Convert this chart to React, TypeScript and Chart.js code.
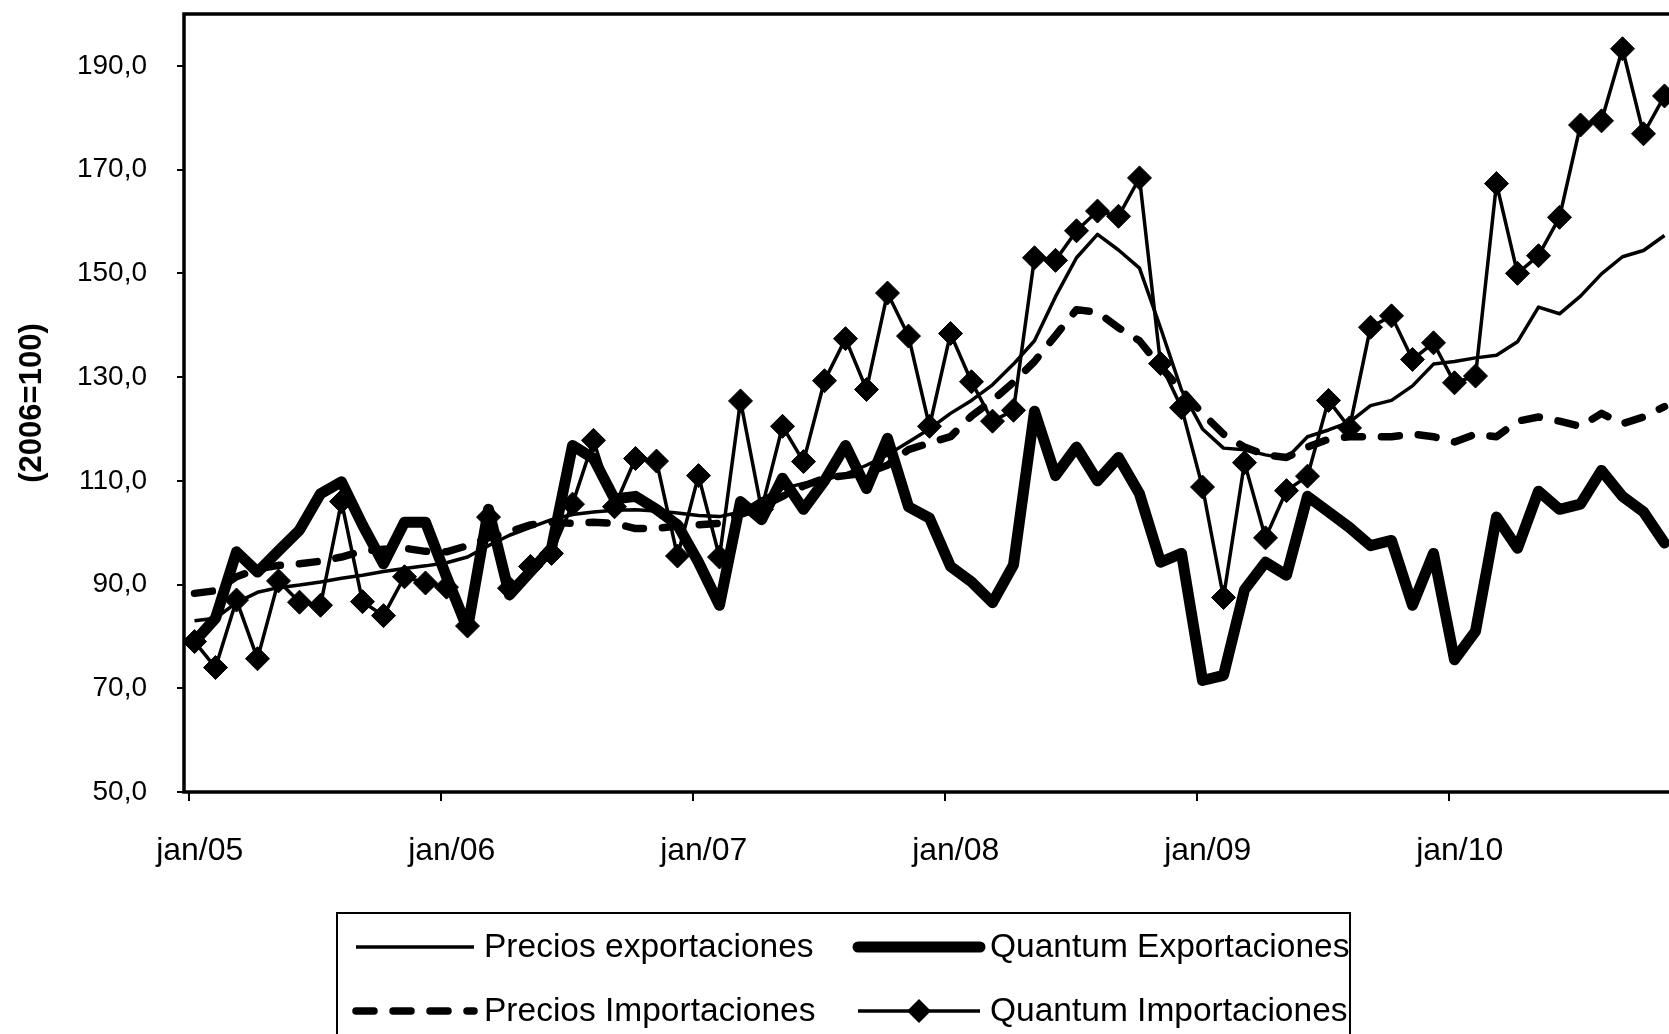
import React, { useEffect, useRef } from 'react';
import { Chart, registerables } from 'chart.js';

Chart.register(...registerables);

// ---------- data ----------
const MONTHS = ['jan', 'fev', 'mar', 'abr', 'mai', 'jun', 'jul', 'ago', 'set', 'out', 'nov', 'dez'];
const YEARS = ['05', '06', '07', '08', '09', '10'];
const categories: string[] = YEARS.flatMap((y) => MONTHS.map((m) => `${m}/${y}`)).slice(0, 71);
const xTickLabels = ['jan/05', 'jan/06', 'jan/07', 'jan/08', 'jan/09', 'jan/10'];

const yTicks = [50, 70, 90, 110, 130, 150, 170, 190];

const preciosExportaciones = [
  83.0, 83.5, 86.5, 88.5, 89.4, 89.9, 90.5, 91.2, 91.8, 92.5, 93.1, 93.6,
  94.2, 95.3, 97.5, 99.5, 101.0, 102.5, 103.5, 104.0, 104.3, 104.4, 104.2, 103.8,
  103.3, 103.1, 104.0, 106.5, 108.5, 109.5, 110.2, 111.3, 113.0, 115.0, 117.5, 120.0,
  123.0, 125.5, 128.5, 132.5, 137.0, 145.5, 153.0, 157.5, 154.5, 151.0, 139.5, 127.5,
  120.0, 116.3, 116.0, 115.0, 114.3, 118.5, 119.8, 121.3, 124.5, 125.5, 128.3, 132.5,
  133.0, 133.7, 134.2, 136.8, 143.5, 142.2, 145.6, 149.9, 153.2, 154.4, 157.3,
];

const quantumExportaciones = [
  79.0, 83.5, 96.3, 92.4, 96.5, 100.5, 107.5, 109.8, 101.5, 94.0, 102.0, 102.0,
  91.5, 81.5, 104.5, 88.0, 92.5, 97.0, 116.8, 114.3, 106.5, 107.0, 104.5, 101.5,
  94.3, 86.0, 106.0, 102.5, 110.5, 104.5, 110.0, 116.8, 108.5, 118.2, 105.0, 102.8,
  93.5, 90.5, 86.5, 93.8, 123.4, 111.0, 116.5, 110.0, 114.5, 107.5, 94.3, 96.0,
  71.5, 72.5, 89.0, 94.3, 91.8, 107.0, 104.0, 101.0, 97.5, 98.5, 86.0, 96.0,
  75.5, 81.0, 103.0, 97.0, 108.0, 104.5, 105.5, 112.0, 107.0, 104.0, 98.0,
];

const preciosImportaciones = [
  88.3, 88.8, 91.5, 93.0, 93.7, 94.0, 94.5, 95.3, 96.5, 96.8, 97.0, 96.4,
  96.3, 97.5, 99.0, 100.2, 101.5, 102.0, 101.8, 102.0, 101.8, 100.8, 100.8, 101.3,
  101.5, 101.8, 103.5, 105.0, 107.0, 109.0, 110.5, 111.0, 111.5, 113.0, 116.0, 117.3,
  118.5, 122.5, 125.5, 129.0, 133.0, 138.0, 143.0, 142.5, 139.5, 137.0, 132.0, 127.5,
  123.0, 119.0, 116.5, 115.0, 114.5, 116.5, 118.0, 118.5, 118.5, 118.5, 119.0, 118.5,
  117.5, 119.0, 118.5, 121.5, 122.3, 121.5, 120.5, 123.0, 121.0, 122.3, 124.3,
];

const quantumImportaciones = [
  79.0, 74.0, 87.0, 75.7, 90.7, 86.6, 86.0, 106.0, 86.7, 84.0, 91.5, 90.3,
  89.5, 82.0, 103.0, 89.3, 93.5, 96.0, 105.5, 117.8, 105.0, 114.3, 113.8, 95.5,
  111.0, 95.3, 125.4, 104.5, 120.5, 113.7, 129.3, 137.4, 127.6, 146.2, 137.9, 120.5,
  138.4, 129.1, 121.5, 123.6, 153.0, 152.5, 158.2, 162.0, 161.0, 168.4, 132.6, 124.1,
  108.8, 87.5, 113.5, 99.0, 108.1, 110.9, 125.5, 120.2, 139.6, 141.8, 133.4, 136.6,
  128.9, 130.2, 167.3, 150.0, 153.4, 160.8, 178.6, 179.4, 193.3, 176.9, 184.2,
];

const seriesLabels = [
  'Precios exportaciones',
  'Quantum Exportaciones',
  'Precios Importaciones',
  'Quantum Importaciones',
];
const yTitle = '(2006=100)';

// ---------- layout constants ----------
const FONT = "'Liberation Sans', Arial, Helvetica, sans-serif";
const CANVAS_W = 1700;
const CANVAS_H = 1090;
const AREA_LEFT = 184;
const AREA_TOP = 14;
const AREA_BOTTOM = 792;
const AREA_RIGHT = 1675;
const X_AXIS_H = 120;
const X_MIN = -0.5;
const X_MAX = 70.5;
const X_TICK_SHIFT = 0.25;

const fmt = (v: number) => v.toFixed(1).replace('.', ',');
const toPoints = (arr: number[]) => arr.map((v, i) => ({ x: i, y: v }));

const framePlugin = {
  id: 'frame',
  afterDraw(chart: any) {
    const { ctx, chartArea: a } = chart;
    ctx.save();
    ctx.strokeStyle = '#000';
    ctx.lineWidth = 3.5;
    ctx.strokeRect(a.left, a.top, a.right - a.left, a.bottom - a.top);
    ctx.restore();
  },
};

const legendPlugin = {
  id: 'boxLegend',
  afterDraw(chart: any) {
    const ctx = chart.ctx as CanvasRenderingContext2D;
    const ds = chart.data.datasets;
    ctx.save();
    ctx.strokeStyle = '#000';
    ctx.lineWidth = 2;
    ctx.strokeRect(337, 913, 1350 - 337, 170);

    const rowsY = [947, 1011];
    const cols = [
      { s: 356, e: 474, t: 484 },
      { s: 858, e: 980, t: 990 },
    ];
    const order = ['pe', 'qe', 'pi', 'qi'];
    order.forEach((key, k) => {
      const d = ds.find((x: any) => x.key === key);
      const col = cols[k % 2];
      const y = rowsY[Math.floor(k / 2)];
      ctx.save();
      ctx.strokeStyle = '#000';
      ctx.lineWidth = d.borderWidth;
      ctx.lineCap = d.borderCapStyle || 'butt';
      ctx.setLineDash(d.borderDash || []);
      ctx.beginPath();
      ctx.moveTo(col.s, y);
      ctx.lineTo(col.e, y);
      ctx.stroke();
      ctx.setLineDash([]);
      if (d.pointRadius > 0) {
        const cx = (col.s + col.e) / 2;
        const r = d.pointRadius;
        ctx.fillStyle = '#000';
        ctx.beginPath();
        ctx.moveTo(cx - r, y);
        ctx.lineTo(cx, y - r);
        ctx.lineTo(cx + r, y);
        ctx.lineTo(cx, y + r);
        ctx.closePath();
        ctx.fill();
      }
      ctx.restore();
      ctx.fillStyle = '#000';
      ctx.font = `33.5px ${FONT}`;
      ctx.textBaseline = 'middle';
      ctx.textAlign = 'left';
      ctx.fillText(d.label, col.t, y + 1);
    });
    ctx.restore();
  },
};

export default function App() {
  const ref = useRef<HTMLCanvasElement | null>(null);

  useEffect(() => {
    if (!ref.current) return;
    const chart = new Chart(ref.current, {
      type: 'line',
      data: {
        labels: categories,
        datasets: [
          {
            key: 'qi',
            label: seriesLabels[3],
            data: toPoints(quantumImportaciones),
            borderColor: '#000',
            backgroundColor: '#000',
            borderWidth: 3.5,
            pointStyle: 'rectRot',
            pointRadius: 12,
            pointBorderWidth: 1,
            pointBackgroundColor: '#000',
            pointBorderColor: '#000',
            tension: 0,
            order: 0,
          } as any,
          {
            key: 'pi',
            label: seriesLabels[2],
            data: toPoints(preciosImportaciones),
            borderColor: '#000',
            borderWidth: 7.5,
            borderDash: [18, 19],
            borderCapStyle: 'round',
            borderJoinStyle: 'round',
            pointRadius: 0,
            tension: 0,
            order: 1,
          } as any,
          {
            key: 'qe',
            label: seriesLabels[1],
            data: toPoints(quantumExportaciones),
            borderColor: '#000',
            borderWidth: 11,
            borderCapStyle: 'round',
            borderJoinStyle: 'round',
            pointRadius: 0,
            tension: 0,
            order: 2,
          } as any,
          {
            key: 'pe',
            label: seriesLabels[0],
            data: toPoints(preciosExportaciones),
            borderColor: '#000',
            borderWidth: 3.5,
            borderJoinStyle: 'round',
            pointRadius: 0,
            tension: 0,
            order: 3,
          } as any,
        ],
      },
      options: {
        responsive: false,
        maintainAspectRatio: false,
        devicePixelRatio: 1,
        animation: false,
        events: [],
        layout: {
          padding: {
            left: 0,
            top: AREA_TOP,
            right: CANVAS_W - AREA_RIGHT,
            bottom: CANVAS_H - AREA_BOTTOM - X_AXIS_H,
          },
        },
        plugins: {
          legend: { display: false },
          tooltip: { enabled: false },
        },
        scales: {
          x: {
            type: 'linear',
            min: X_MIN,
            max: X_MAX,
            border: { display: false },
            grid: {
              drawOnChartArea: false,
              drawTicks: true,
              tickLength: 9,
              lineWidth: 2,
              color: '#000',
            },
            afterBuildTicks: (s: any) => {
              s.ticks = xTickLabels.map((_l, k) => ({ value: X_MIN + X_TICK_SHIFT + 12 * k }));
            },
            ticks: {
              autoSkip: false,
              maxRotation: 0,
              minRotation: 0,
              padding: 31,
              labelOffset: 10.5,
              color: '#000',
              font: { family: FONT, size: 32 },
              callback: (_v: any, i: number) => xTickLabels[i] ?? '',
            },
            afterFit: (s: any) => {
              s.height = X_AXIS_H;
              s.paddingLeft = 0;
              s.paddingRight = 0;
            },
          },
          y: {
            type: 'linear',
            min: 50,
            max: 200,
            border: { display: false },
            grid: {
              drawOnChartArea: false,
              drawTicks: true,
              tickLength: 7,
              lineWidth: 2,
              color: '#000',
            },
            afterBuildTicks: (s: any) => {
              s.ticks = yTicks.map((v) => ({ value: v }));
            },
            ticks: {
              padding: 30,
              color: '#000',
              font: { family: FONT, size: 28 },
              callback: (v: any) => fmt(Number(v)),
            },
            title: {
              display: true,
              text: yTitle,
              color: '#000',
              font: { family: FONT, size: 31, weight: 'bold' },
              padding: { top: 14, bottom: 0 },
            },
            afterFit: (s: any) => {
              s.width = AREA_LEFT;
              s.paddingTop = 0;
              s.paddingBottom = 0;
            },
          },
        },
      } as any,
      plugins: [framePlugin, legendPlugin],
    });
    return () => chart.destroy();
  }, []);

  return (
    <div
      style={{
        position: 'fixed',
        left: 0,
        top: 0,
        width: '1669px',
        height: '1034px',
        overflow: 'hidden',
        background: '#fff',
      }}
    >
      <canvas
        ref={ref}
        width={CANVAS_W}
        height={CANVAS_H}
        style={{ display: 'block', width: `${CANVAS_W}px`, height: `${CANVAS_H}px` }}
      />
    </div>
  );
}
